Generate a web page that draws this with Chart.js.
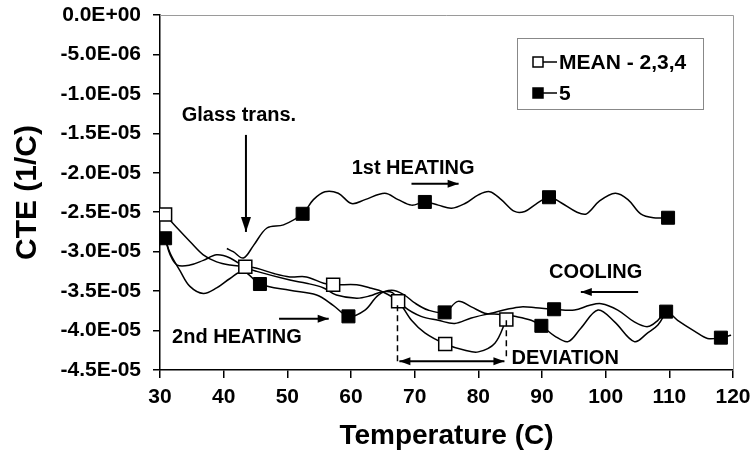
<!DOCTYPE html>
<html>
<head>
<meta charset="utf-8">
<script src="https://cdn.jsdelivr.net/npm/chart.js@4.4.1/dist/chart.umd.min.js"></script>
<style>
  html, body { margin: 0; padding: 0; background: #fff; }
</style>
</head>
<body>
<canvas id="cte" width="754" height="467"></canvas>
<script>
// CTE vs temperature, sample 5 (heat / cool / reheat) and mean of 2,3,4
const xTicks = [30, 40, 50, 60, 70, 80, 90, 100, 110, 120];

// MEAN - 2,3,4 (open squares)
const meanT   = [30.8, 32.7, 34.7, 36.8, 38.9, 41.0, 43.4, 45.2, 48.0, 50.4, 53.0, 55.7, 57.2, 60.9, 63.0, 65.0, 67.4, 69.5, 71.6, 74.8, 77.9, 80.0, 82.6, 84.4];
const meanCTE = [-2.53e-5, -2.70e-5, -2.87e-5, -3.04e-5, -3.13e-5, -3.17e-5, -3.19e-5, -3.21e-5, -3.28e-5, -3.32e-5, -3.32e-5, -3.40e-5, -3.42e-5, -3.42e-5, -3.46e-5, -3.51e-5, -3.63e-5, -3.87e-5, -4.03e-5, -4.17e-5, -4.25e-5, -4.27e-5, -4.16e-5, -3.86e-5];
const meanMarkT   = [30.8, 43.4, 57.2, 67.4, 74.8, 84.4];
const meanMarkCTE = [-2.53e-5, -3.19e-5, -3.42e-5, -3.63e-5, -4.17e-5, -3.86e-5];

// sample 5, 1st heating
const heat1T   = [40.5, 41.5, 43.1, 44.7, 46.8, 49.4, 52.4, 54.1, 55.9, 58.0, 60.1, 62.2, 65.3, 67.4, 69.5, 71.6, 73.7, 75.8, 77.9, 80.0, 81.8, 83.6, 85.7, 87.3, 89.0, 91.1, 93.0, 95.5, 97.0, 99.0, 101.5, 103.5, 105.5, 107.5, 109.8];
const heat1CTE = [-2.96e-5, -3.00e-5, -3.08e-5, -2.92e-5, -2.70e-5, -2.66e-5, -2.52e-5, -2.34e-5, -2.24e-5, -2.26e-5, -2.39e-5, -2.34e-5, -2.26e-5, -2.34e-5, -2.41e-5, -2.37e-5, -2.41e-5, -2.45e-5, -2.39e-5, -2.28e-5, -2.24e-5, -2.34e-5, -2.49e-5, -2.49e-5, -2.40e-5, -2.31e-5, -2.38e-5, -2.50e-5, -2.52e-5, -2.36e-5, -2.26e-5, -2.34e-5, -2.52e-5, -2.57e-5, -2.57e-5];

// sample 5, cooling
const coolT   = [30.8, 31.6, 32.7, 34.7, 36.8, 38.9, 41.0, 43.4, 45.2, 50.4, 53.0, 55.7, 57.7, 60.9, 63.0, 64.8, 66.5, 68.4, 71.0, 73.7, 76.3, 78.9, 82.0, 84.5, 86.7, 89.0, 91.9, 95.1, 97.5, 99.3, 101.9, 104.5, 106.6, 108.2, 109.5, 111.3, 114.0, 116.0, 118.1, 119.7];
const coolCTE = [-2.83e-5, -3.04e-5, -3.17e-5, -3.17e-5, -3.11e-5, -3.04e-5, -3.08e-5, -3.20e-5, -3.25e-5, -3.36e-5, -3.40e-5, -3.46e-5, -3.55e-5, -3.59e-5, -3.56e-5, -3.51e-5, -3.52e-5, -3.70e-5, -3.82e-5, -3.87e-5, -3.91e-5, -3.84e-5, -3.78e-5, -3.73e-5, -3.70e-5, -3.71e-5, -3.73e-5, -3.74e-5, -3.68e-5, -3.66e-5, -3.74e-5, -3.89e-5, -3.95e-5, -3.87e-5, -3.76e-5, -3.87e-5, -4.01e-5, -4.10e-5, -4.09e-5, -4.06e-5];

// sample 5, 2nd heating
const heat2T   = [30.8, 31.6, 33.2, 34.7, 36.8, 38.9, 41.0, 43.1, 45.7, 50.4, 54.6, 57.2, 59.6, 62.2, 64.3, 66.4, 68.4, 70.0, 72.1, 74.7, 76.8, 78.9, 81.0, 82.5, 84.0, 85.7, 88.3, 89.9, 92.0, 94.1, 96.1, 98.8, 101.4, 104.5, 106.6, 108.2, 109.5];
const heat2CTE = [-2.83e-5, -3.02e-5, -3.25e-5, -3.44e-5, -3.53e-5, -3.46e-5, -3.34e-5, -3.25e-5, -3.41e-5, -3.49e-5, -3.55e-5, -3.68e-5, -3.82e-5, -3.74e-5, -3.55e-5, -3.49e-5, -3.55e-5, -3.65e-5, -3.74e-5, -3.77e-5, -3.63e-5, -3.70e-5, -3.78e-5, -3.79e-5, -3.80e-5, -3.82e-5, -3.87e-5, -3.94e-5, -4.07e-5, -4.14e-5, -3.97e-5, -3.74e-5, -3.89e-5, -4.14e-5, -4.03e-5, -3.93e-5, -3.76e-5];

// filled markers for sample 5
const s5MarkT   = [30.8, 45.7, 59.6, 74.7, 89.9, 91.9, 109.5, 118.1, 52.4, 71.6, 91.1, 109.8];
const s5MarkCTE = [-2.83e-5, -3.41e-5, -3.82e-5, -3.77e-5, -3.94e-5, -3.73e-5, -3.76e-5, -4.09e-5, -2.52e-5, -2.37e-5, -2.31e-5, -2.57e-5];

// annotations, in data units
const notes = [
  { text: 'Glass trans.', x: 33.4, y: -1.27e-5 },
  { text: '1st HEATING',  x: 60.1, y: -1.94e-5 },
  { text: 'COOLING',      x: 91.1, y: -3.26e-5 },
  { text: '2nd HEATING',  x: 31.9, y: -4.09e-5 },
  { text: 'DEVIATION',    x: 85.2, y: -4.35e-5 },
];
const arrows = [
  { x1: 43.5, y1: -1.52e-5, x2: 43.5, y2: -2.75e-5, big: true },
  { x1: 69.5, y1: -2.14e-5, x2: 76.9, y2: -2.14e-5 },
  { x1: 105.1, y1: -3.51e-5, x2: 96.1, y2: -3.51e-5 },
  { x1: 48.7, y1: -3.85e-5, x2: 56.5, y2: -3.85e-5 },
  { x1: 67.6, y1: -4.39e-5, x2: 84.1, y2: -4.39e-5, both: true },
];
const dashes = [
  { x: 67.3, y1: -3.68e-5, y2: -4.40e-5 },
  { x: 84.4, y1: -3.87e-5, y2: -4.37e-5 },
];

const FONT = "'Liberation Sans', Arial, sans-serif";
const pts = (xs, ys) => xs.map((x, i) => ({ x, y: ys[i] }));

function sci(v) {
  if (Math.abs(v) < 1e-12) return '0.0E+00';
  const [m, e] = v.toExponential(1).split('e');
  const n = parseInt(e, 10);
  return m + 'E' + (n < 0 ? '-' : '+') + String(Math.abs(n)).padStart(2, '0');
}

const lineStyle = { borderColor: '#000', borderWidth: 1.5, pointRadius: 0, tension: 0.35, fill: false, order: 2 };

function head(ctx, x, y, dx, dy, len, half) {
  const n = Math.hypot(dx, dy), ux = dx / n, uy = dy / n;
  ctx.beginPath();
  ctx.moveTo(x, y);
  ctx.lineTo(x - ux * len - uy * half, y - uy * len + ux * half);
  ctx.lineTo(x - ux * len + uy * half, y - uy * len - ux * half);
  ctx.closePath();
  ctx.fill();
}

const deco = {
  id: 'deco',
  afterDatasetsDraw(chart) {
    const { ctx, chartArea: a, scales: { x, y } } = chart;
    ctx.save();
    // light frame on top and right
    ctx.strokeStyle = '#9a9a9a';
    ctx.lineWidth = 1;
    ctx.beginPath();
    ctx.moveTo(a.left, a.top + 0.5);
    ctx.lineTo(a.right + 0.5, a.top + 0.5);
    ctx.lineTo(a.right + 0.5, a.bottom);
    ctx.stroke();

    ctx.strokeStyle = '#000';
    ctx.fillStyle = '#000';
    ctx.lineWidth = 1.5;
    ctx.setLineDash([6, 4]);
    dashes.forEach(d => {
      ctx.beginPath();
      ctx.moveTo(x.getPixelForValue(d.x), y.getPixelForValue(d.y1));
      ctx.lineTo(x.getPixelForValue(d.x), y.getPixelForValue(d.y2));
      ctx.stroke();
    });
    ctx.setLineDash([]);

    arrows.forEach(r => {
      const x1 = x.getPixelForValue(r.x1), y1 = y.getPixelForValue(r.y1);
      const x2 = x.getPixelForValue(r.x2), y2 = y.getPixelForValue(r.y2);
      const len = r.big ? 15 : 11, half = r.big ? 5 : 4;
      ctx.lineWidth = 2;
      ctx.beginPath();
      ctx.moveTo(x1, y1);
      ctx.lineTo(x2, y2);
      ctx.stroke();
      head(ctx, x2, y2, x2 - x1, y2 - y1, len, half);
      if (r.both) head(ctx, x1, y1, x1 - x2, y1 - y2, len, half);
    });

    ctx.font = 'bold 20px ' + FONT;
    ctx.textBaseline = 'middle';
    ctx.textAlign = 'left';
    notes.forEach(n => ctx.fillText(n.text, x.getPixelForValue(n.x), y.getPixelForValue(n.y)));

    // legend box
    const bx = a.right - 216, by = a.top + 23, bw = 186, bh = 71;
    ctx.fillStyle = '#fff';
    ctx.fillRect(bx, by, bw, bh);
    ctx.strokeStyle = '#888';
    ctx.lineWidth = 1;
    ctx.strokeRect(bx + 0.5, by + 0.5, bw, bh);
    const items = [chart.data.datasets[0], chart.data.datasets[1]];
    items.forEach((ds, i) => {
      const cy = by + 24 + i * 31;
      ctx.strokeStyle = '#000';
      ctx.lineWidth = 1.5;
      ctx.beginPath();
      ctx.moveTo(bx + 17, cy);
      ctx.lineTo(bx + 40, cy);
      ctx.stroke();
      ctx.fillStyle = ds.backgroundColor;
      ctx.fillRect(bx + 16, cy - 5, 10, 10);
      ctx.strokeRect(bx + 16, cy - 5, 10, 10);
      ctx.fillStyle = '#000';
      ctx.font = 'bold 21px ' + FONT;
      ctx.fillText(ds.label, bx + 42, cy + 1);
    });
    ctx.restore();
  }
};

Chart.defaults.font.family = FONT;
Chart.defaults.color = '#000';

new Chart(document.getElementById('cte'), {
  type: 'line',
  data: {
    datasets: [
      { label: 'MEAN - 2,3,4', data: pts(meanMarkT, meanMarkCTE), showLine: false, pointStyle: 'rect',
        pointRadius: 9.2, borderColor: '#000', backgroundColor: '#fff', pointBorderWidth: 1.5, order: 0 },
      { label: '5', data: pts(s5MarkT, s5MarkCTE), showLine: false, pointStyle: 'rect',
        pointRadius: 9.2, borderColor: '#000', backgroundColor: '#000', pointBorderWidth: 1, order: 0 },
      { label: 'mean curve', data: pts(meanT, meanCTE), ...lineStyle },
      { label: '1st heating', data: pts(heat1T, heat1CTE), ...lineStyle },
      { label: 'cooling', data: pts(coolT, coolCTE), ...lineStyle },
      { label: '2nd heating', data: pts(heat2T, heat2CTE), ...lineStyle },
    ]
  },
  options: {
    responsive: false,
    animation: false,
    layout: { padding: { top: 15, right: 21, left: 0, bottom: 0 } },
    plugins: { legend: { display: false }, tooltip: { enabled: false } },
    scales: {
      x: {
        type: 'linear', min: 30, max: 120,
        afterBuildTicks: s => { s.ticks = xTicks.map(v => ({ value: v })); },
        afterFit: s => { s.height = 97; s.paddingLeft = 0; s.paddingRight = 0; },
        grid: { drawOnChartArea: false, drawTicks: true, tickLength: 8, color: '#000', lineWidth: 1.5 },
        border: { color: '#000', width: 1.5 },
        ticks: { font: { size: 21, weight: 'bold' }, padding: 7, maxRotation: 0 },
        title: { display: true, text: 'Temperature (C)', font: { size: 28, weight: 'bold' }, padding: { top: 2, bottom: 14 } }
      },
      y: {
        min: -4.5e-5, max: 0,
        afterFit: s => { s.width = 160; s.paddingTop = 0; s.paddingBottom = 0; },
        grid: { drawOnChartArea: false, drawTicks: true, tickLength: 7, color: '#000', lineWidth: 1.5 },
        border: { color: '#000', width: 1.5 },
        ticks: { stepSize: 5e-6, font: { size: 21, weight: 'bold' }, padding: 12, callback: v => sci(v) },
        title: { display: true, text: 'CTE (1/C)', font: { size: 30, weight: 'bold' }, padding: { top: 10, bottom: 2 } }
      }
    }
  },
  plugins: [deco]
});
</script>
</body>
</html>
